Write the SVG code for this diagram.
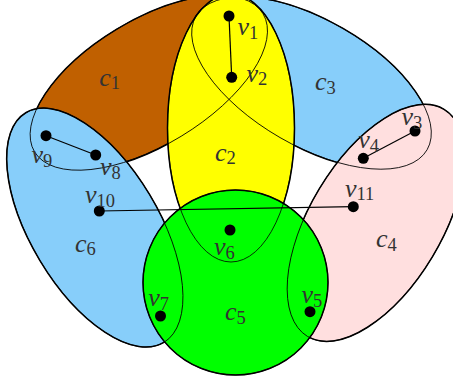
<svg xmlns="http://www.w3.org/2000/svg" xmlns:xlink="http://www.w3.org/1999/xlink" width="453" height="383" viewBox="0 0 453 383">
<style>
.fill{stroke:#000;stroke-width:1.5}
.thin{fill:none;stroke:#000;stroke-width:0.8}
.br{fill:#C06000}.bl{fill:#87CEFA}.ye{fill:#FFFF00}.gr{fill:#00FF00}.pk{fill:#FFDFDF}
.lab{font-family:"Liberation Serif","DejaVu Serif",serif;font-style:italic;font-size:26px;fill:#333}
.sub{font-style:normal;font-size:18.5px}
.edge{stroke:#000;stroke-width:1.2;fill:none}
.dot{fill:#000}
</style>
<defs>
<ellipse id="e1" cx="148.8" cy="82.8" rx="133.5" ry="62.5" transform="rotate(-31.2 148.8 82.8)"/>
<ellipse id="e3" cx="311.5" cy="83" rx="133.5" ry="63" transform="rotate(30 311.5 83)"/>
<ellipse id="e2" cx="231" cy="128" rx="63.5" ry="134"/>
<ellipse id="e6" cx="94.8" cy="227.6" rx="134" ry="64" transform="rotate(59 94.8 227.6)"/>
<ellipse id="e4" cx="375.8" cy="222.9" rx="132.5" ry="66" transform="rotate(-59 375.8 222.9)"/>
<circle id="e5" cx="235.5" cy="282.5" r="92.5"/>
</defs>
<g id="c1"><use xlink:href="#e1" class="fill br"/><text class="lab" x="99.3" y="85.7">c<tspan class="sub" dy="3.5">1</tspan></text></g>
<g id="c3"><use xlink:href="#e3" class="fill bl"/><text class="lab" x="315" y="90">c<tspan class="sub" dy="3.5">3</tspan></text></g>
<g id="c2"><use xlink:href="#e2" class="fill ye"/><text class="lab" x="215" y="160.7">c<tspan class="sub" dy="3.5">2</tspan></text></g>
<g id="c6"><use xlink:href="#e6" class="fill bl"/><text class="lab" x="75" y="251.7">c<tspan class="sub" dy="3.5">6</tspan></text></g>
<g id="c4"><use xlink:href="#e4" class="fill pk"/><text class="lab" x="376" y="247.3">c<tspan class="sub" dy="3.5">4</tspan></text></g>
<g id="c5"><use xlink:href="#e5" class="fill gr"/><text class="lab" x="225" y="320">c<tspan class="sub" dy="3.5">5</tspan></text></g>
<g id="outlines">
<use xlink:href="#e1" class="thin"/><use xlink:href="#e3" class="thin"/><use xlink:href="#e2" class="thin"/>
<use xlink:href="#e6" class="thin"/><use xlink:href="#e4" class="thin"/><use xlink:href="#e5" class="thin"/>
</g>
<g id="connectors">
<line class="edge" x1="229" y1="16" x2="231.7" y2="77.3"/>
<line class="edge" x1="415" y1="131" x2="363.3" y2="158.3"/>
<line class="edge" x1="46" y1="135.7" x2="95.7" y2="155"/>
<line class="edge" x1="99.3" y1="211" x2="353.3" y2="206.7"/>
</g>
<g id="v1"><circle class="dot" cx="229" cy="16" r="5.5"/><text class="lab" x="237.5" y="35">v<tspan class="sub" dy="3.5">1</tspan></text></g>
<g id="v2"><circle class="dot" cx="231.7" cy="77.3" r="5.5"/><text class="lab" x="246.5" y="81.5">v<tspan class="sub" dy="3.5">2</tspan></text></g>
<g id="v3"><circle class="dot" cx="415" cy="131" r="5.5"/><text class="lab" x="401.5" y="125">v<tspan class="sub" dy="3.5">3</tspan></text></g>
<g id="v4"><circle class="dot" cx="363.3" cy="158.3" r="5.5"/><text class="lab" x="358.3" y="148.3">v<tspan class="sub" dy="3.5">4</tspan></text></g>
<g id="v5"><circle class="dot" cx="310" cy="311.7" r="5.5"/><text class="lab" x="301.5" y="303.3">v<tspan class="sub" dy="3.5">5</tspan></text></g>
<g id="v6"><circle class="dot" cx="230" cy="230" r="5.5"/><text class="lab" x="214" y="255">v<tspan class="sub" dy="3.5">6</tspan></text></g>
<g id="v7"><circle class="dot" cx="160.5" cy="316" r="5.5"/><text class="lab" x="148.3" y="306">v<tspan class="sub" dy="3.5">7</tspan></text></g>
<g id="v8"><circle class="dot" cx="95.7" cy="155" r="5.5"/><text class="lab" x="100" y="175">v<tspan class="sub" dy="3.5">8</tspan></text></g>
<g id="v9"><circle class="dot" cx="46" cy="135.7" r="5.5"/><text class="lab" x="31.5" y="163.3">v<tspan class="sub" dy="3.5">9</tspan></text></g>
<g id="v10"><circle class="dot" cx="99.3" cy="211" r="5.5"/><text class="lab" x="85" y="203.3">v<tspan class="sub" dy="3.5">10</tspan></text></g>
<g id="v11"><circle class="dot" cx="353.3" cy="206.7" r="5.5"/><text class="lab" x="345" y="196.7">v<tspan class="sub" dy="3.5">11</tspan></text></g>
</svg>
